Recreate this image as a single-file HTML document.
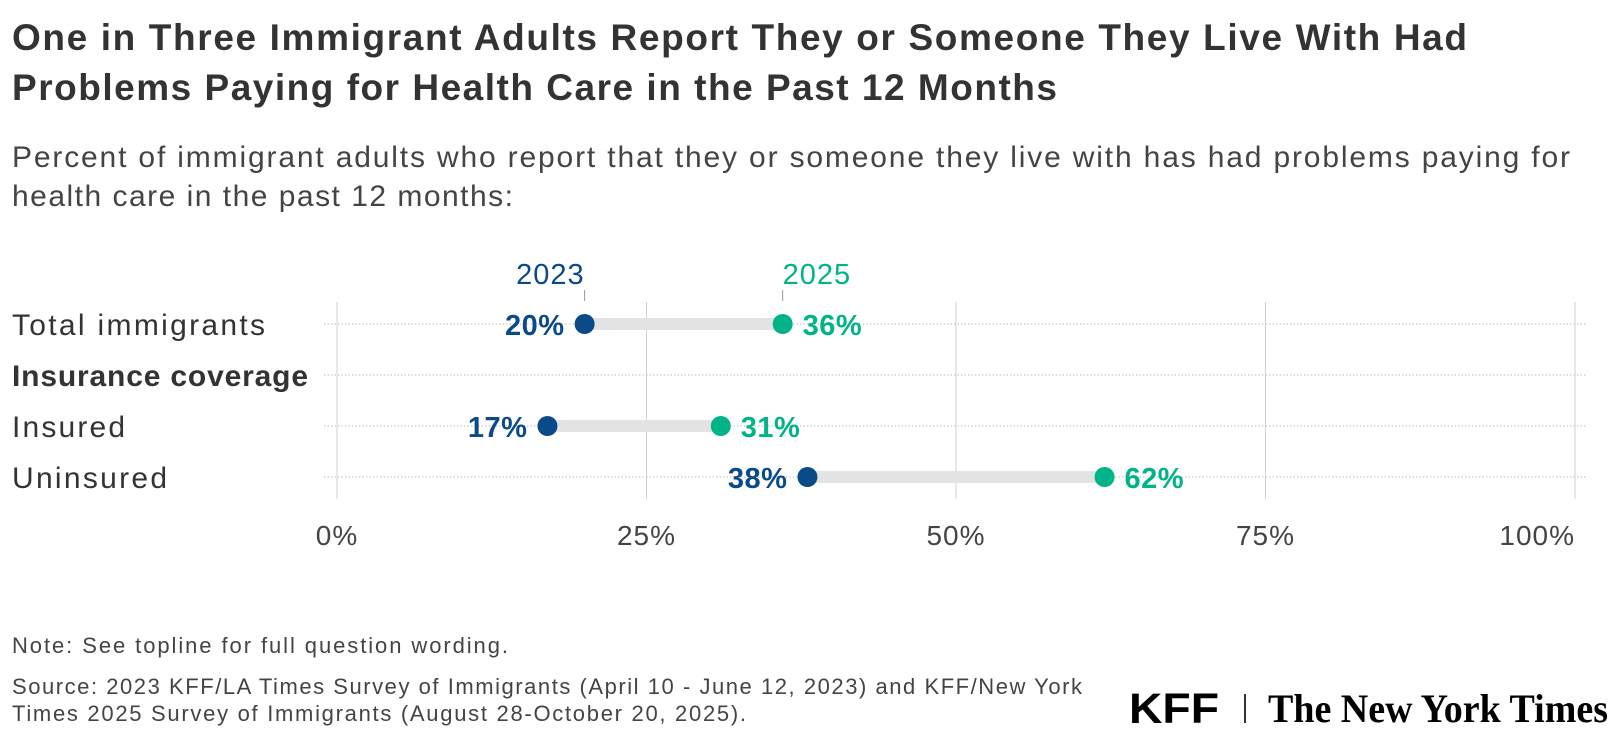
<!DOCTYPE html>
<html><head><meta charset="utf-8"><style>
body{margin:0;background:#fff;width:1620px;height:748px;overflow:hidden}
svg text{font-family:"Liberation Sans",sans-serif}
</style></head><body>
<svg id="c" width="1620" height="748" style="position:absolute;left:0;top:0">
<text x="12" y="50" font-size="37" font-weight="bold" fill="#333" textLength="1455" lengthAdjust="spacing">One in Three Immigrant Adults Report They or Someone They Live With Had</text>
<text x="12" y="100" font-size="37" font-weight="bold" fill="#333" textLength="1045" lengthAdjust="spacing">Problems Paying for Health Care in the Past 12 Months</text>
<text x="12" y="167" font-size="30" fill="#444" textLength="1558" lengthAdjust="spacing">Percent of immigrant adults who report that they or someone they live with has had problems paying for</text>
<text x="12" y="206" font-size="30" fill="#444" textLength="501" lengthAdjust="spacing">health care in the past 12 months:</text>
<text x="12" y="653" font-size="22" fill="#444" textLength="496" lengthAdjust="spacing">Note: See topline for full question wording.</text>
<text x="12" y="694" font-size="22" fill="#444" textLength="1070" lengthAdjust="spacing">Source: 2023 KFF/LA Times Survey of Immigrants (April 10 - June 12, 2023) and KFF/New York</text>
<text x="12" y="721" font-size="22" fill="#444" textLength="734" lengthAdjust="spacing">Times 2025 Survey of Immigrants (August 28-October 20, 2025).</text>
<text x="1129" y="723" font-size="43" font-weight="bold" fill="#000" textLength="90" lengthAdjust="spacingAndGlyphs">KFF</text>
<rect x="1244" y="694" width="2" height="29" fill="#333"/>
<text x="1268" y="722" font-size="40" font-weight="bold" fill="#000" style="font-family:'Liberation Serif',serif" textLength="340" lengthAdjust="spacingAndGlyphs">The New York Times</text>
</svg>
<script>
const categories=["Total immigrants","Insurance coverage","Insured","Uninsured"];
const v2023=[20,null,17,38];
const v2025=[36,null,31,62];
const ticks=[0,25,50,75,100];
const labelWidths=[253,296,113,155];
const NS="http://www.w3.org/2000/svg";
const svg=document.getElementById('c');
const x=v=>337+v*12.38;
const rowY=i=>324+i*51;
function mk(t,a,txt){const e=document.createElementNS(NS,t);for(const k in a)e.setAttribute(k,a[k]);if(txt!=null)e.textContent=txt;svg.appendChild(e);return e;}
ticks.forEach(t=>{
 const g=mk('line',{x1:x(t),x2:x(t),y1:302,y2:499,stroke:'#d0d0d0','stroke-width':1});
 
 
 const last=t===ticks[ticks.length-1];
 const l=mk('text',{x:x(t),y:545,'text-anchor':last?'end':'middle','font-size':28,fill:'#444','letter-spacing':1},t+'%');
 
 
});
categories.forEach((c,i)=>{
 const y=rowY(i);
 const d=mk('line',{x1:324,x2:1586,y1:y,y2:y,stroke:'#bbb','stroke-width':1,'stroke-dasharray':'1.5,2'});
 
 
 const lb=mk('text',{x:12,y:y+11,'font-size':30,fill:'#333','font-weight':v2023[i]==null?'bold':'normal',textLength:labelWidths[i],lengthAdjust:'spacing'},c);
 
 
 if(v2023[i]==null)return;
 const a=v2023[i],b=v2025[i];
 const bar=mk('line',{x1:x(a),x2:x(b),y1:y,y2:y,stroke:'#e3e3e3','stroke-width':12});
 
 
 const c1=mk('circle',{cx:x(a),cy:y,r:10,fill:'#0b4a89'});
 
 
 const c2=mk('circle',{cx:x(b),cy:y,r:10,fill:'#00b388'});
 
 
 const t1=mk('text',{x:x(a)-20,y:y+11,'text-anchor':'end','font-size':29,'font-weight':'bold',fill:'#0b4a89','letter-spacing':0.5},a+'%');
 
 
 const t2=mk('text',{x:x(b)+20,y:y+11,'font-size':29,'font-weight':'bold',fill:'#00b388','letter-spacing':0.5},b+'%');
 
 
});
[[v2023[0],'2023','#0b4a89','end'],[v2025[0],'2025','#00b388','start']].forEach(([v,s,col,anc])=>{
 const tk=mk('line',{x1:x(v),x2:x(v),y1:290,y2:301,stroke:'#999','stroke-width':1});
 
 
 const lt=mk('text',{x:x(v),y:284,'text-anchor':anc,'font-size':29,fill:col,'letter-spacing':1},s);
 
 
});
</script>
</body></html>
